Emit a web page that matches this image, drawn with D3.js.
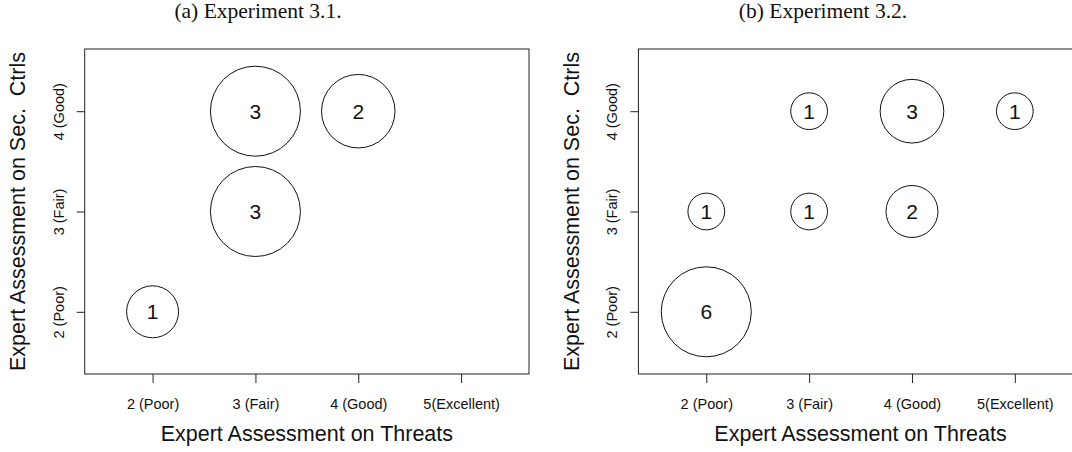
<!DOCTYPE html>
<html>
<head>
<meta charset="utf-8">
<script src="https://cdn.jsdelivr.net/npm/d3@7"></script>
<style>
  html, body { margin: 0; padding: 0; background: #fff; }
  svg { display: block; }
</style>
</head>
<body>
<svg id="chart" width="1072" height="452"></svg>
<script>
// Rating levels and their axis labels
const threatLevels = [2, 3, 4, 5];
const threatLabels = ["2 (Poor)", "3 (Fair)", "4 (Good)", "5(Excellent)"];
const ctrlLevels = [2, 3, 4];
const ctrlLabels = ["2 (Poor)", "3 (Fair)", "4 (Good)"];

// Experiment 3.1: counts of (threat, control) rating pairs
const exp31Threat = [2, 3, 3, 4];
const exp31Ctrl   = [2, 3, 4, 4];
const exp31Count  = [1, 3, 3, 2];

// Experiment 3.2
const exp32Threat = [2, 2, 3, 4, 3, 4, 5];
const exp32Ctrl   = [2, 3, 3, 3, 4, 4, 4];
const exp32Count  = [6, 1, 1, 2, 1, 3, 1];

const panelTitles = ["(a) Experiment 3.1.", "(b) Experiment 3.2."];
const xTitle = "Expert Assessment on Threats";
const yTitle = "Expert Assessment on Sec.  Ctrls";

const svg = d3.select("#chart");
const sans = "'Liberation Sans', Arial, Helvetica, sans-serif";
const serif = "'Liberation Serif', 'Times New Roman', serif";

const panels = [
  { dx: 0, titleX: 258, threat: exp31Threat, ctrl: exp31Ctrl, count: exp31Count, title: panelTitles[0] },
  { dx: 553.7, titleX: 823, threat: exp32Threat, ctrl: exp32Ctrl, count: exp32Count, title: panelTitles[1] }
];

// plot region (per panel, before horizontal offset)
const box = { left: 84.7, right: 529, top: 49, bottom: 374 };

panels.forEach(p => {
  const g = svg.append("g").attr("transform", `translate(${p.dx},0)`);

  // R-style 4% padding around [1.5, 5.5] and [1.5, 4.5]
  const x = d3.scaleLinear().domain([1.34, 5.66]).range([box.left, box.right]);
  const y = d3.scaleLinear().domain([1.38, 4.62]).range([box.bottom, box.top]);
  const r = d3.scaleSqrt().domain([0, d3.max(p.count)]).range([0, 45]);

  // title
  svg.append("text")
    .attr("x", p.titleX).attr("y", 17.5)
    .attr("text-anchor", "middle")
    .style("font-family", serif).style("font-size", "21.5px").style("fill", "#111")
    .text(p.title);

  // frame
  g.append("rect")
    .attr("x", box.left).attr("y", box.top)
    .attr("width", box.right - box.left).attr("height", box.bottom - box.top)
    .attr("fill", "none").attr("stroke", "#222").attr("stroke-width", 1);

  // x axis
  const xAxis = d3.axisBottom(x)
    .tickValues(threatLevels)
    .tickFormat((d, i) => threatLabels[i])
    .tickSizeInner(9).tickSizeOuter(0).tickPadding(16);
  const xg = g.append("g").attr("transform", `translate(0,${box.bottom})`).call(xAxis);
  xg.select(".domain").remove();
  xg.selectAll(".tick line").attr("stroke", "#222");
  xg.selectAll(".tick text")
    .style("font-family", sans).style("font-size", "14.5px").style("fill", "#111");

  // y axis with rotated labels
  const yAxis = d3.axisLeft(y)
    .tickValues(ctrlLevels)
    .tickFormat((d, i) => ctrlLabels[i])
    .tickSizeInner(8).tickSizeOuter(0);
  const yg = g.append("g").attr("transform", `translate(${box.left},0)`).call(yAxis);
  yg.select(".domain").remove();
  yg.selectAll(".tick line").attr("stroke", "#222");
  yg.selectAll(".tick text")
    .attr("x", null).attr("dy", null)
    .attr("text-anchor", "middle")
    .attr("transform", "translate(-21,0) rotate(-90)")
    .style("font-family", sans).style("font-size", "14.5px").style("fill", "#111");

  // axis titles
  g.append("text")
    .attr("x", (box.left + box.right) / 2).attr("y", 441)
    .attr("text-anchor", "middle")
    .style("font-family", sans).style("font-size", "21.5px").style("fill", "#111")
    .text(xTitle);
  g.append("text")
    .attr("transform", `translate(25,${(box.top + box.bottom) / 2}) rotate(-90)`)
    .attr("text-anchor", "middle")
    .style("font-family", sans).style("font-size", "21.5px").style("fill", "#111")
    .style("white-space", "pre")
    .text(yTitle);

  // bubbles
  const data = p.count.map((c, i) => ({ t: p.threat[i], s: p.ctrl[i], n: c }));
  const b = g.append("g").selectAll("g").data(data).join("g")
    .attr("transform", d => `translate(${x(d.t)},${y(d.s)})`);
  b.append("circle")
    .attr("r", d => r(d.n))
    .attr("fill", "none").attr("stroke", "#111").attr("stroke-width", 1);
  b.append("text")
    .attr("text-anchor", "middle").attr("dy", "0.36em")
    .style("font-family", sans).style("font-size", "21px").style("fill", "#111")
    .text(d => d.n);
});
</script>
</body>
</html>
